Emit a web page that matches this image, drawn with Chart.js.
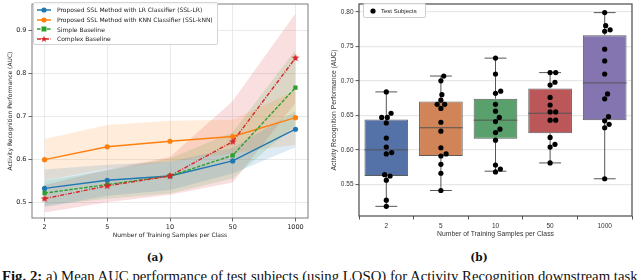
<!DOCTYPE html>
<html>
<head>
<meta charset="utf-8">
<script src="https://cdn.jsdelivr.net/npm/chart.js"></script>
<style>
  body { margin: 0; width: 640px; height: 280px; overflow: hidden; background: #fff; position: relative; }
  .pane { position: absolute; }
  .legend { position: absolute; background: rgba(255,255,255,0.9); border: 1px solid #d4d4d4; border-radius: 2px; box-sizing: border-box; }
  .row { display: flex; align-items: center; height: 9.7px; white-space: nowrap; }
  .row svg { flex: none; }
  .lgA { font: 6px 'DejaVu Sans'; color: #222; margin-left: 3px; }
  .lgB { font: 6px 'Liberation Sans'; color: #222; margin-left: 3px; }
  .cap { position: absolute; font: bold 10.5px 'DejaVu Serif'; color: #111; text-align: center; }
  #fig { position: absolute; left: 2px; top: 269px; white-space: nowrap; font: 14px 'Liberation Serif'; color: #111; transform-origin: 0 0; }
</style>
</head>
<body>
<div class="pane" style="left:0;top:0;width:316px;height:245px"><canvas id="lineChart"></canvas></div>
<div class="pane" style="left:320px;top:0;width:320px;height:245px"><canvas id="boxChart"></canvas></div>

<div class="legend" style="left:33px;top:2px;width:185px;height:43px;padding-top:2px">
  <div class="row"><svg width="18" height="8" style="margin-left:2px"><line x1="1" y1="4" x2="15" y2="4" stroke="#1f77b4" stroke-width="1.5"/><circle cx="8" cy="4" r="2.6" fill="#1f77b4"/></svg><span class="lgA">Proposed SSL Method with LR Classifier (SSL-LR)</span></div>
  <div class="row"><svg width="18" height="8" style="margin-left:2px"><line x1="1" y1="4" x2="15" y2="4" stroke="#ff7f0e" stroke-width="1.5"/><circle cx="8" cy="4" r="2.6" fill="#ff7f0e"/></svg><span class="lgA">Proposed SSL Method with KNN Classifier (SSL-kNN)</span></div>
  <div class="row"><svg width="18" height="8" style="margin-left:2px"><line x1="1" y1="4" x2="15" y2="4" stroke="#2ca02c" stroke-width="1.5" stroke-dasharray="3.5 1.5"/><rect x="5.5" y="1.5" width="5" height="5" fill="#2ca02c"/></svg><span class="lgA">Simple Baseline</span></div>
  <div class="row"><svg width="18" height="8" style="margin-left:2px"><line x1="1" y1="4" x2="15" y2="4" stroke="#d62728" stroke-width="1.5" stroke-dasharray="4 1.5 1 1.5"/><polygon points="8,0.8 8.9,3 11.2,3.1 9.4,4.6 10,6.9 8,5.6 6,6.9 6.6,4.6 4.8,3.1 7.1,3" fill="#d62728"/></svg><span class="lgA">Complex Baseline</span></div>
</div>

<div class="legend" style="left:363px;top:3px;width:63px;height:15px;border-color:#cfcfcf">
  <div class="row" style="height:13px"><svg width="12" height="8" style="margin-left:4px"><circle cx="5" cy="4" r="2.6" fill="#000"/></svg><span class="lgB" style="margin-left:1px">Test Subjects</span></div>
</div>

<div class="cap" style="left:135px;top:251px;width:40px">(a)</div>
<div class="cap" style="left:459px;top:251px;width:40px">(b)</div>
<div id="fig"><b>Fig. 2:</b> a) Mean AUC performance of test subjects (using LOSO) for Activity Recognition downstream task</div>

<script>
// ---- data: (a) mean AUC with spread bands ----
const sampleLabels = ['2', '5', '10', '50', '1000'];
const lineTicks = [0.5, 0.6, 0.7, 0.8, 0.9];

const lrMean = [0.532, 0.551, 0.561, 0.596, 0.670];
const lrLow = [0.488, 0.515, 0.528, 0.567, 0.628];
const lrHigh = [0.576, 0.587, 0.594, 0.627, 0.712];

const knnMean = [0.599, 0.629, 0.642, 0.653, 0.697];
const knnLow = [0.551, 0.578, 0.594, 0.614, 0.634];
const knnHigh = [0.647, 0.680, 0.690, 0.692, 0.760];

const simpleMean = [0.521, 0.541, 0.561, 0.609, 0.767];
const simpleLow = [0.492, 0.508, 0.520, 0.555, 0.680];
const simpleHigh = [0.550, 0.574, 0.602, 0.663, 0.855];

const complexMean = [0.508, 0.538, 0.561, 0.641, 0.836];
const complexLow = [0.476, 0.500, 0.517, 0.546, 0.731];
const complexHigh = [0.540, 0.576, 0.605, 0.736, 0.940];

// ---- data: (b) per-subject AUC box plots ----
const boxTicks = [0.55, 0.60, 0.65, 0.70, 0.75, 0.80];
const boxMin = [0.518, 0.541, 0.569, 0.581, 0.558];
const boxQ1 = [0.562, 0.591, 0.616, 0.624, 0.643];
const boxMedian = [0.600, 0.632, 0.643, 0.653, 0.697];
const boxQ3 = [0.644, 0.670, 0.674, 0.689, 0.766];
const boxMax = [0.684, 0.707, 0.733, 0.712, 0.799];

const subjects2 = [0.684, 0.653, 0.647, 0.647, 0.639, 0.617, 0.604, 0.596, 0.594, 0.564, 0.562, 0.556, 0.527, 0.518];
const subjects5 = [0.707, 0.700, 0.680, 0.672, 0.666, 0.666, 0.660, 0.640, 0.627, 0.603, 0.594, 0.591, 0.579, 0.566, 0.541];
const subjects10 = [0.733, 0.710, 0.685, 0.682, 0.666, 0.656, 0.647, 0.641, 0.630, 0.625, 0.614, 0.578, 0.572, 0.568];
const subjects50 = [0.712, 0.712, 0.698, 0.694, 0.676, 0.665, 0.655, 0.655, 0.643, 0.643, 0.618, 0.608, 0.604, 0.581];
const subjects1000 = [0.799, 0.780, 0.774, 0.772, 0.746, 0.729, 0.710, 0.681, 0.674, 0.648, 0.642, 0.637, 0.632, 0.558];

const boxColors = ['#5471a8', '#d08458', '#5aa06c', '#bb5659', '#8474b0'];

// ── helpers ──
const fontA = 'DejaVu Sans';
const fontB = 'Liberation Sans';

function starImage(color, r) {
  const c = document.createElement('canvas');
  const s = Math.ceil(r * 2 + 2);
  c.width = c.height = s;
  const g = c.getContext('2d');
  g.beginPath();
  for (let i = 0; i < 10; i++) {
    const rad = i % 2 ? r * 0.45 : r;
    const a = -Math.PI / 2 + i * Math.PI / 5;
    g.lineTo(s / 2 + rad * Math.cos(a), s / 2 + rad * Math.sin(a));
  }
  g.closePath();
  g.fillStyle = color;
  g.fill();
  return c;
}

const xy = vals => vals.map((v, i) => ({ x: i, y: v }));

const frame = (color, width) => ({
  id: 'frame',
  afterDraw(chart) {
    const { ctx, chartArea: a } = chart;
    ctx.save();
    ctx.strokeStyle = color;
    ctx.lineWidth = width;
    ctx.strokeRect(a.left, a.top, a.right - a.left, a.bottom - a.top);
    ctx.restore();
  }
});

// ────────────────────────────────────────────
// (a) line chart with bands
// ────────────────────────────────────────────
const series = [
  { label: 'Complex Baseline', mean: complexMean, low: complexLow, high: complexHigh, color: '#d62728', band: 'rgba(214,39,40,0.15)', dash: [4, 1.5, 1, 1.5], point: starImage('#d62728', 4) },
  { label: 'Simple Baseline', mean: simpleMean, low: simpleLow, high: simpleHigh, color: '#2ca02c', band: 'rgba(44,160,44,0.15)', dash: [3.5, 1.5], point: 'rect' },
  { label: 'SSL-kNN', mean: knnMean, low: knnLow, high: knnHigh, color: '#ff7f0e', band: 'rgba(255,127,14,0.15)', dash: [], point: 'circle' },
  { label: 'SSL-LR', mean: lrMean, low: lrLow, high: lrHigh, color: '#1f77b4', band: 'rgba(31,119,180,0.15)', dash: [], point: 'circle' }
];

const lineSets = series.map(s => ({
  label: s.label,
  data: xy(s.mean),
  borderColor: s.color,
  backgroundColor: s.color,
  borderWidth: 1.4,
  borderDash: s.dash,
  pointStyle: s.point,
  pointRadius: s.point === 'rect' ? 3 : 2.6,
  pointBorderWidth: 0,
  fill: false,
  tension: 0
}));

const bandSets = [];
series.slice().reverse().forEach(s => {
  bandSets.push({ data: xy(s.high), borderWidth: 0, pointRadius: 0, backgroundColor: s.band, fill: '+1', tension: 0 });
  bandSets.push({ data: xy(s.low), borderWidth: 0, pointRadius: 0, fill: false, tension: 0 });
});

new Chart(document.getElementById('lineChart'), {
  type: 'line',
  data: { datasets: [...lineSets, ...bandSets] },
  options: {
    responsive: true,
    maintainAspectRatio: false,
    animation: false,
    events: [],
    layout: { padding: { left: 0, top: 2, right: 8, bottom: 0 } },
    plugins: { legend: { display: false }, tooltip: { enabled: false } },
    scales: {
      x: {
        type: 'linear',
        min: -0.2,
        max: 4.2,
        afterBuildTicks: s => { s.ticks = sampleLabels.map((_, i) => ({ value: i })); },
        afterFit: s => { s.height = 27; s.paddingLeft = 0; s.paddingRight = 0; },
        ticks: { callback: v => sampleLabels[v], color: '#222', font: { family: fontA, size: 6.5 }, padding: 1.5, maxRotation: 0, autoSkip: false },
        grid: { color: '#e4e4e4', lineWidth: 0.8, tickLength: 3.5, tickColor: '#444', tickWidth: 0.8 },
        border: { display: false },
        title: { display: true, text: 'Number of Training Samples per Class', color: '#222', font: { family: fontA, size: 6 }, padding: { top: 0, bottom: 6 } }
      },
      y: {
        min: 0.463,
        max: 0.962,
        afterBuildTicks: s => { s.ticks = lineTicks.map(v => ({ value: v })); },
        afterFit: s => { s.width = 32; s.paddingTop = 0; s.paddingBottom = 0; },
        ticks: { callback: v => v.toFixed(1), color: '#222', font: { family: fontA, size: 6.5 }, padding: 2 },
        grid: { color: '#e4e4e4', lineWidth: 0.8, tickLength: 3.5, tickColor: '#444', tickWidth: 0.8 },
        border: { display: false },
        title: { display: true, text: 'Activity Recognition Performance (AUC)', color: '#222', font: { family: fontA, size: 6 }, padding: { top: 6.4, bottom: 0 } }
      }
    }
  },
  plugins: [frame('#6e6e6e', 0.9)]
});

// ────────────────────────────────────────────
// (b) box plots with swarm of test subjects
// ────────────────────────────────────────────
const subjectSets = [subjects2, subjects5, subjects10, subjects50, subjects1000];
const subjectPoints = [];
subjectSets.forEach((vals, i) => vals.forEach(v => subjectPoints.push({ x: sampleLabels[i], y: v })));

// whiskers, caps and median lines, drawn on top of the boxes
const boxParts = {
  id: 'boxParts',
  afterDatasetDraw(chart, args) {
    if (args.index !== 1) return;
    const { ctx } = chart;
    const y = chart.scales.y;
    ctx.save();
    ctx.strokeStyle = '#555';
    ctx.lineWidth = 1;
    args.meta.data.forEach((bar, i) => {
      const cx = bar.x;
      const hw = bar.width / 2;
      const cap = bar.width / 4;
      const seg = (x1, y1, x2, y2) => { ctx.beginPath(); ctx.moveTo(x1, y1); ctx.lineTo(x2, y2); ctx.stroke(); };
      seg(cx, y.getPixelForValue(boxQ3[i]), cx, y.getPixelForValue(boxMax[i]));
      seg(cx, y.getPixelForValue(boxQ1[i]), cx, y.getPixelForValue(boxMin[i]));
      seg(cx - cap, y.getPixelForValue(boxMax[i]), cx + cap, y.getPixelForValue(boxMax[i]));
      seg(cx - cap, y.getPixelForValue(boxMin[i]), cx + cap, y.getPixelForValue(boxMin[i]));
      seg(cx - hw, y.getPixelForValue(boxMedian[i]), cx + hw, y.getPixelForValue(boxMedian[i]));
    });
    ctx.restore();
  }
};

// spread overlapping subject points sideways, like a swarm plot
const swarm = {
  id: 'swarm',
  afterDatasetsUpdate(chart) {
    const meta = chart.getDatasetMeta(0);
    const raw = chart.data.datasets[0].data;
    const d = 5.6;
    const groups = {};
    meta.data.forEach((pt, k) => { (groups[raw[k].x] = groups[raw[k].x] || []).push(pt); });
    Object.keys(groups).forEach(label => {
      const pts = groups[label];
      const cx = chart.scales.x.getPixelForValue(sampleLabels.indexOf(label));
      const placed = [];
      pts.slice().sort((a, b) => b.y - a.y).forEach(p => {
        const near = placed.filter(q => Math.abs(q.y - p.y) < d);
        const cands = [0];
        near.forEach(q => {
          const dx = Math.sqrt(d * d - (q.y - p.y) ** 2);
          cands.push(q.off + dx, q.off - dx);
        });
        cands.sort((a, b) => Math.abs(a) - Math.abs(b));
        const off = cands.find(c => near.every(q => (q.off - c) ** 2 + (q.y - p.y) ** 2 >= d * d - 0.01));
        placed.push({ y: p.y, off });
        p.x = cx + off;
      });
    });
  }
};

new Chart(document.getElementById('boxChart'), {
  type: 'bar',
  data: {
    labels: sampleLabels,
    datasets: [
      {
        type: 'scatter',
        data: subjectPoints,
        backgroundColor: '#000',
        borderWidth: 0,
        pointRadius: 2.6
      },
      {
        data: boxQ1.map((q, i) => [q, boxQ3[i]]),
        backgroundColor: boxColors,
        borderColor: '#5c5c5c',
        borderWidth: 1,
        borderSkipped: false,
        barPercentage: 0.8,
        categoryPercentage: 1
      }
    ]
  },
  options: {
    responsive: true,
    maintainAspectRatio: false,
    animation: false,
    events: [],
    layout: { padding: { left: 0, top: 2, right: 8, bottom: 0 } },
    plugins: { legend: { display: false }, tooltip: { enabled: false } },
    scales: {
      x: {
        afterFit: s => { s.height = 29; s.paddingLeft = 0; s.paddingRight = 0; },
        ticks: { color: '#333', font: { family: fontB, size: 6.5 }, padding: 2.5, maxRotation: 0 },
        grid: { drawOnChartArea: false, tickLength: 3.5, tickColor: '#444', tickWidth: 0.9 },
        border: { display: false },
        title: { display: true, text: 'Number of Training Samples per Class', color: '#333', font: { family: fontB, size: 6.8 }, padding: { top: 0, bottom: 6.5 } }
      },
      y: {
        min: 0.504,
        max: 0.8115,
        afterBuildTicks: s => { s.ticks = boxTicks.map(v => ({ value: v })); },
        afterFit: s => { s.width = 39; s.paddingTop = 0; s.paddingBottom = 0; },
        ticks: { callback: v => v.toFixed(2), color: '#333', font: { family: fontB, size: 6.5 }, padding: 2 },
        grid: { color: '#e8e8e8', lineWidth: 1.2, tickLength: 3.5, tickColor: '#444', tickWidth: 0.9 },
        border: { display: false },
        title: { display: true, text: 'Activity Recognition Performance (AUC)', color: '#333', font: { family: fontB, size: 6.8 }, padding: { top: 10.5, bottom: 0 } }
      }
    }
  },
  plugins: [boxParts, swarm, frame('#4a4a4a', 1.2)]
});

// stretch the caption line across the page width
const fig = document.getElementById('fig');
fig.style.transform = 'scaleX(' + (636 / fig.scrollWidth) + ')';
</script>
</body>
</html>
